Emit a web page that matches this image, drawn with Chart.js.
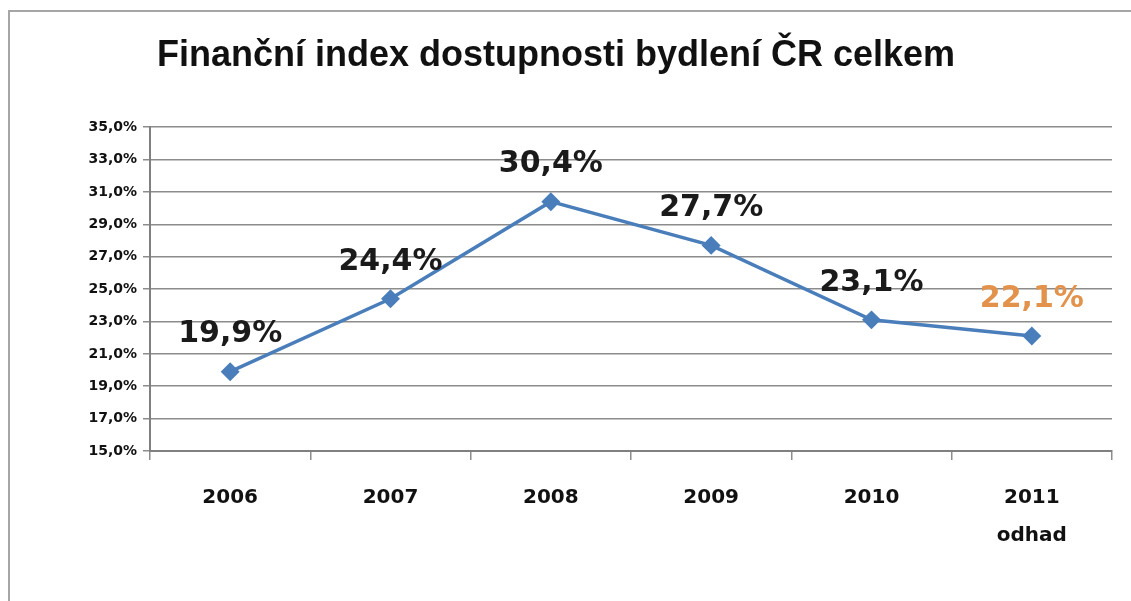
<!DOCTYPE html>
<html>
<head>
<meta charset="utf-8">
<script src="https://cdn.jsdelivr.net/npm/chart.js@4"></script>
<style>
    html, body { margin: 0; padding: 0; background: #fff; overflow: hidden; }
    #wrap { position: relative; width: 1131px; height: 601px; }
    #frame { position: absolute; left: 8px; top: 10px; width: 1140px; height: 700px; border: 2px solid #a6a6a6; box-sizing: border-box; }
    canvas { position: absolute; left: 0; top: 0; }
</style>
</head>
<body>
<div id="wrap">
    <div id="frame"></div>
    <canvas id="myChart" width="1131" height="601"></canvas>
</div>
<script>
const years = ['2006', '2007', '2008', '2009', '2010', ['2011', 'odhad']];
const indexValues = [19.9, 24.4, 30.4, 27.7, 23.1, 22.1];
const yTickMin = 15;
const yTickMax = 35;
const yTickStep = 2;

const fmt = v => v.toFixed(1).replace('.', ',') + '%';
const labelColors = ['#1a1a1a', '#1a1a1a', '#1a1a1a', '#1a1a1a', '#1a1a1a', '#e2924a'];

// value labels above each point
const pointLabels = {
    id: 'pointLabels',
    afterDatasetsDraw(chart) {
        const { ctx } = chart;
        const meta = chart.getDatasetMeta(0);
        ctx.save();
        ctx.font = 'bold 30px "DejaVu Sans", Verdana, sans-serif';
        ctx.textAlign = 'center';
        ctx.textBaseline = 'middle';
        meta.data.forEach((pt, i) => {
            ctx.fillStyle = labelColors[i];
            ctx.fillText(fmt(indexValues[i]), pt.x, pt.y - 37);
        });
        ctx.restore();
    }
};

const ctx = document.getElementById('myChart').getContext('2d');
new Chart(ctx, {
    type: 'line',
    data: {
        labels: years,
        datasets: [{
            data: indexValues,
            borderColor: '#4a7ebb',
            backgroundColor: '#4a7ebb',
            borderWidth: 3.5,
            pointStyle: 'rectRot',
            pointRadius: 7,
            pointHoverRadius: 7,
            tension: 0
        }]
    },
    options: {
        responsive: false,
        animation: false,
        layout: { padding: { left: 0, right: 19, top: 0, bottom: 0 } },
        plugins: {
            legend: { display: false },
            tooltip: { enabled: false },
            title: {
                display: true,
                text: 'Finanční index dostupnosti bydlení ČR celkem',
                color: '#111',
                font: { family: '"Liberation Sans", Arial, sans-serif', size: 36, weight: 'bold' },
                padding: { top: 34, bottom: 50 }
            }
        },
        scales: {
            x: {
                offset: true,
                grid: {
                    display: true,
                    offset: true,
                    drawOnChartArea: false,
                    drawTicks: true,
                    tickLength: 9,
                    color: '#8c8c8c',
                    lineWidth: 1.5
                },
                border: { color: '#808080', width: 2 },
                ticks: {
                    color: '#111',
                    padding: 19,
                    font: { family: '"DejaVu Sans", Verdana, sans-serif', size: 20, weight: 'bold', lineHeight: 1.9 },
                    maxRotation: 0
                },
                afterFit(scale) { scale.height = 150; }
            },
            y: {
                min: yTickMin,
                max: yTickMax,
                ticks: {
                    stepSize: yTickStep,
                    color: '#111',
                    padding: 6,
                    font: { family: '"DejaVu Sans", Verdana, sans-serif', size: 14, weight: 'bold' },
                    callback: v => fmt(v)
                },
                grid: {
                    color: '#8c8c8c',
                    lineWidth: 1.5,
                    tickLength: 7
                },
                border: { color: '#808080', width: 2 },
                afterFit(scale) { scale.width = 150; }
            }
        }
    },
    plugins: [pointLabels]
});
</script>
</body>
</html>
